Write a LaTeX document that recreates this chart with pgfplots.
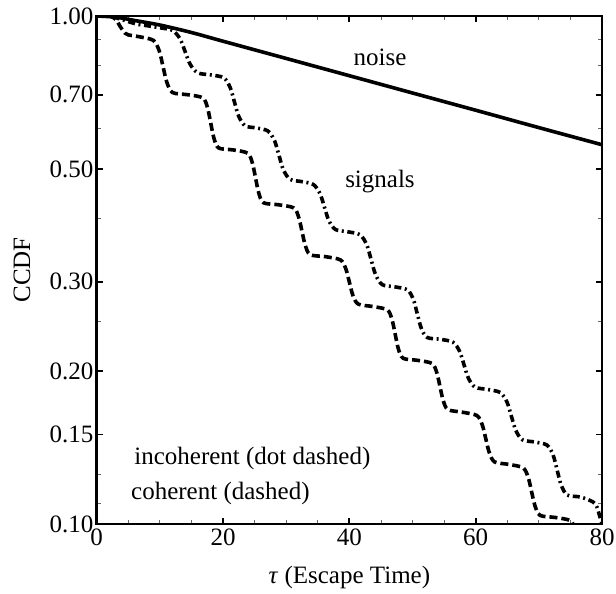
\documentclass[border=0pt]{standalone}
\usepackage{pgfplots}
\pgfplotsset{compat=1.18}
\usepackage{fontspec}
\setmainfont{Liberation Serif}
\newcommand{\lbl}{\fontsize{12.5}{15}\selectfont}
\begin{document}
\lbl
\begin{tikzpicture}
\begin{axis}[
  at={(0,0)}, anchor=south west,
  scale only axis, width=252.65pt, height=254pt,
  xmin=0, xmax=80, ymin=0.1, ymax=1,
  ymode=log,
  xtick={0,20,40,60,80},
  minor xtick={5,10,15,25,30,35,45,50,55,65,70,75},
  ytick={0.1,0.15,0.2,0.3,0.5,0.7,1.0},
  yticklabels={0.10,0.15,0.20,0.30,0.50,0.70,1.00},
  minor ytick={0.11,0.125,0.25,0.4,0.6,0.8,0.9},
  tick align=inside, tick pos=both,
  major tick length=3pt, minor tick length=2pt,
  major tick style={line width=0.9pt, black},
  minor tick style={line width=0.4pt, black!60},
  axis line style={line width=1.3pt},
  /pgf/number format/assume math mode=true,
  ticklabel style={font=\lbl},
  yticklabel style={inner xsep=1.5pt},
  xticklabel style={inner ysep=2pt},
  label style={font=\lbl},
  every axis y label/.style={at={(axis description cs:-0.148,0.5)}, anchor=center, rotate=90},
  every axis x label/.style={at={(axis description cs:0.5,0)}, yshift=-26.5pt, anchor=center},
  xlabel={\textit{τ} (Escape Time)},
  ylabel={CCDF},
]
% noise (solid)
\addplot[black, line width=1.8pt, smooth] coordinates {
 (0,1.0) (3,0.995) (6,0.98) (10,0.96) (15,0.928) (20,0.892) (30,0.825)
 (40,0.763) (50,0.7055) (60,0.6525) (70,0.603) (80,0.558)
};
% coherent (dashed)
\addplot[black, line width=1.8pt, dash pattern=on 4pt off 2pt, smooth, tension=0.5] coordinates {
 (0,1.0) (2,1.0) (3,0.985) (3.8,0.95) (4.5,0.925)
 (5.0,0.918) (7.0,0.909) (9.0,0.895)
 (9.9,0.854) (10.5,0.7955) (11.1,0.741)
 (12.0,0.707) (14.4,0.700) (16.8,0.690)
 (17.55,0.6594) (18.05,0.616) (18.55,0.5755)
 (19.3,0.550) (21.6,0.545) (23.9,0.537)
 (24.65,0.5134) (25.15,0.480) (25.65,0.4487)
 (26.4,0.429) (28.8,0.425) (31.2,0.419)
 (31.98,0.4016) (32.5,0.3768) (33.02,0.3537)
 (33.8,0.339) (36.2,0.336) (38.6,0.331)
 (39.44,0.318) (40.0,0.2995) (40.56,0.282)
 (41.4,0.271) (43.7,0.268) (46.0,0.264)
 (46.75,0.2527) (47.25,0.2366) (47.75,0.2215)
 (48.5,0.212) (50.8,0.210) (53.1,0.207)
 (53.85,0.1985) (54.35,0.1865) (54.85,0.1752)
 (55.6,0.168) (57.9,0.166) (60.2,0.1635)
 (61.04,0.1568) (61.6,0.1472) (62.16,0.1382)
 (63.0,0.1325) (65.3,0.131) (67.5,0.129)
 (68.31,0.1236) (68.85,0.1158) (69.39,0.1086)
 (70.2,0.104) (72.6,0.103) (75.0,0.1015)
 (75.8,0.097) (76.5,0.091) (77.2,0.085)
};
% incoherent (dot dashed)
\addplot[black, line width=1.8pt, dash pattern=on 3.5pt off 1.8pt on 1pt off 1.8pt, smooth, tension=0.5] coordinates {
 (0,1.0) (2,1.0) (3,0.993) (5,0.975) (6.5,0.963)
 (8.0,0.957) (10.0,0.948) (12.0,0.937)
 (13.2,0.9016) (14.0,0.851) (14.8,0.8033)
 (16.0,0.773) (18.0,0.766) (20.1,0.756)
 (21.12,0.7238) (21.8,0.678) (22.48,0.635)
 (23.5,0.608) (25.3,0.602) (27.1,0.594)
 (28.15,0.5685) (28.85,0.5323) (29.55,0.4984)
 (30.6,0.477) (32.5,0.472) (34.3,0.466)
 (35.35,0.4473) (36.05,0.4208) (36.75,0.3958)
 (37.8,0.380) (39.8,0.376) (41.7,0.371)
 (42.75,0.3546) (43.45,0.3314) (44.15,0.3097)
 (45.2,0.296) (47.2,0.293) (49.2,0.289)
 (50.13,0.2768) (50.75,0.2595) (51.37,0.2433)
 (52.3,0.233) (54.4,0.231) (56.4,0.228)
 (57.45,0.2189) (58.15,0.2059) (58.85,0.1937)
 (59.9,0.186) (61.9,0.184) (63.9,0.1815)
 (64.95,0.1739) (65.65,0.1631) (66.35,0.1529)
 (67.4,0.1465) (69.4,0.145) (71.3,0.143)
 (72.26,0.1367) (72.9,0.1277) (73.54,0.1193)
 (74.5,0.114) (76.6,0.113) (78.6,0.1105)
 (79.2,0.108) (79.6,0.104) (80,0.100)
};
\node[font=\lbl, anchor=base] at (axis cs:44.85,0.7975) {noise};
\node[font=\lbl, anchor=base] at (axis cs:44.85,0.4606) {signals};
\node[font=\lbl, anchor=base west, inner sep=0pt] at (axis cs:5.9,0.1307) {incoherent (dot dashed)};
\node[font=\lbl, anchor=base west, inner sep=0pt] at (axis cs:5.4,0.1116) {coherent (dashed)};
\end{axis}
\pgfresetboundingbox
\path[use as bounding box] (-48.35pt,-35pt) rectangle (259.65pt,262pt);
\end{tikzpicture}
\end{document}
